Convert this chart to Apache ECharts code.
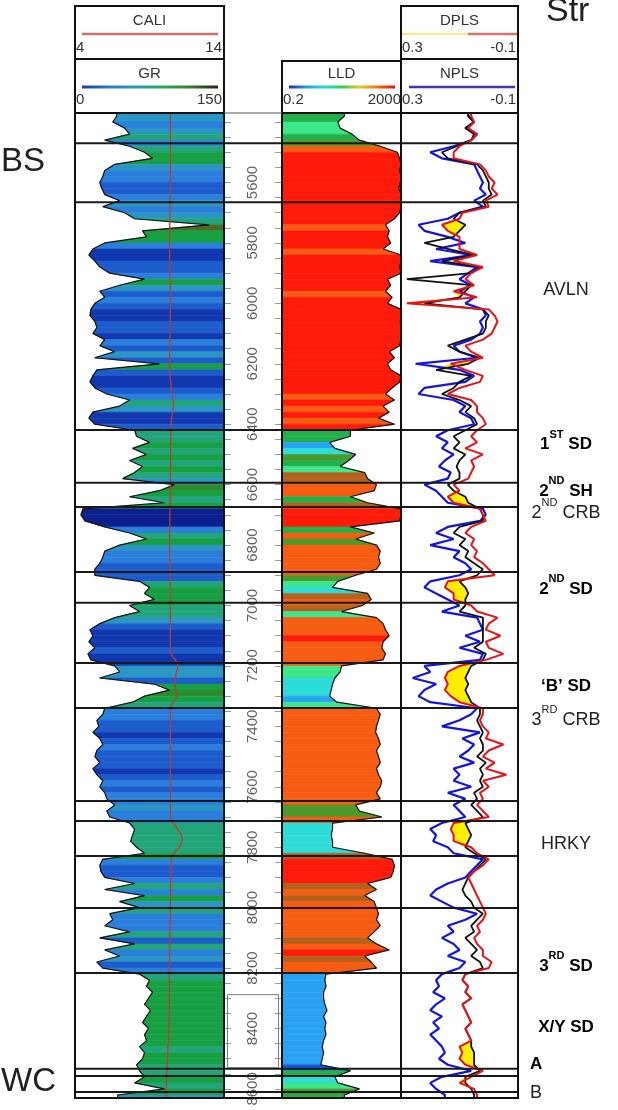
<!DOCTYPE html>
<html><head><meta charset="utf-8">
<script src="https://cdn.jsdelivr.net/npm/echarts@6/dist/echarts.min.js"></script>
<style>html,body{margin:0;padding:0;background:#fff}#c{width:618px;height:1110px}</style>
</head><body><div id="c"></div>
<script>
// ---------------- DATA ----------------
const DEPTH_TOP = 5370, DEPTH_BOTTOM = 8630;      // depth range of the log tracks (ft)
const SAMPLE_START = 5380, SAMPLE_STEP = 20;       // curve sampling grid (ft)

const grValues = [
  42,38,50,55,30,
  55,70,78,40,30,28,25,27,30,45,
  28,50,60,135,68,72,30,18,14,20,25,35,70,45,25,30,20,16,15,20,22,18,30,25,40,20,85,22,18,15,20,32,55,45,18,14,20,
  60,62,75,58,72,55,68,60,48,
  100,85,55,90,
  8,6,10,30,55,72,45,30,28,25,20,
  20,65,75,70,80,
  55,65,40,25,15,18,14,20,13,16,
  40,45,25,80,95,70,58,
  30,28,22,24,18,25,28,22,20,25,18,22,28,25,30,32,
  40,32,35,
  55,60,58,56,62,70,
  28,25,26,30,60,30,70,45,65,
  35,38,30,55,25,60,30,45,22,28,
  65,75,72,78,74,70,76,72,68,74,70,72,65,70,68,62,
  65,70,60,90,43
];
const lldValues = [
  25,15,18,45,80,
  400,1500,1800,2000,1800,2000,1900,1700,2000,2000,
  2000,1800,1200,600,800,700,900,500,2000,2000,1800,2000,700,900,600,1000,700,2000,2000,1900,2000,2000,2000,1800,800,1200,700,900,2000,1800,1000,600,1200,500,800,350,1200,
  40,40,8,12,60,35,18,120,150,
  300,250,40,150,
  2000,2000,1800,40,250,60,300,400,350,400,300,
  60,15,10,150,200,
  100,20,300,500,600,800,500,450,600,500,
  20,18,12,10,9,8,14,
  300,400,350,300,280,350,400,300,350,400,300,350,450,400,300,400,
  60,80,450,
  10,10,9,10,10,120,
  1000,1200,1100,900,150,300,120,250,300,
  350,300,400,250,150,300,800,120,200,300,
  6,5.5,6,5,5,5.5,6.5,5,6,5.5,6,5,4.5,5,4.5,4,
  40,12,15,80,25
];
const nplsValues = [
  0.07,0.05,0.08,0.04,0.06,
  0.12,0.20,0.16,0.05,0.04,0.03,0.02,0.03,0.01,0.05,
  0.02,0.10,0.14,0.24,0.22,0.14,0.08,0.18,0.06,0.20,0.04,0.07,0.10,0.06,0.10,0.05,0.08,0.02,0.01,0.03,0.02,0.03,0.06,0.12,0.10,0.04,0.25,0.10,0.05,0.08,0.22,0.24,0.12,0.08,0.10,0.06,0.05,
  0.14,0.18,0.14,0.16,0.12,0.15,0.17,0.13,0.14,
  0.22,0.18,0.16,0.14,
  0.02,0.01,0.03,0.14,0.18,0.12,0.20,0.10,0.12,0.08,0.06,
  0.10,0.20,0.22,0.18,0.14,
  0.10,0.16,0.04,0.03,0.02,0.08,0.03,0.10,0.02,0.03,
  0.22,0.20,0.26,0.18,0.22,0.24,0.20,
  0.04,0.06,0.10,0.16,0.03,0.09,0.05,0.07,0.10,0.05,0.12,0.10,0.12,0.06,0.14,0.08,
  0.12,0.10,0.08,
  0.16,0.20,0.18,0.19,0.14,0.12,
  0.02,0.04,0.06,0.08,0.14,0.18,0.20,0.16,0.12,
  0.04,0.08,0.14,0.12,0.16,0.12,0.10,0.14,0.08,0.10,
  0.16,0.18,0.17,0.19,0.15,0.18,0.20,0.16,0.19,0.17,0.20,0.18,0.16,0.15,0.17,0.14,
  0.06,0.16,0.20,0.18,0.15
];
const dplsValues = [
  0.06,0.05,0.07,0.04,0.06,
  0.10,0.12,0.12,0.03,0.01,0.0,-0.02,-0.01,-0.03,0.01,
  0.0,0.09,0.10,0.16,0.14,0.10,0.10,0.10,0.04,0.12,0.02,0.06,0.08,0.05,0.12,0.04,0.28,0.0,-0.02,-0.03,-0.02,-0.01,0.02,0.08,0.06,0.02,0.13,0.08,0.02,0.03,0.10,0.14,0.06,0.04,0.04,0.02,0.01,
  0.04,0.06,0.04,0.08,0.02,0.06,0.05,0.06,0.07,
  0.12,0.10,0.14,0.12,
  0.03,0.02,0.01,0.06,0.08,0.05,0.06,0.04,0.05,0.02,0.0,
  -0.02,0.14,0.15,0.12,0.12,
  0.06,0.04,-0.03,0.0,0.01,-0.04,0.01,0.0,-0.05,0.01,
  0.10,0.14,0.15,0.14,0.15,0.13,0.10,
  0.02,0.02,0.03,0.02,0.0,0.01,-0.05,0.0,0.02,-0.02,0.01,-0.06,0.02,0.0,0.03,0.02,
  0.04,0.02,0.0,
  0.12,0.13,0.12,0.12,0.06,0.04,
  0.0,0.02,0.05,0.07,0.06,0.05,0.04,0.03,0.02,
  0.01,0.02,0.04,0.03,0.05,0.04,0.02,0.02,-0.01,0.0,
  0.08,0.09,0.07,0.08,0.06,0.09,0.08,0.07,0.06,0.08,0.07,0.06,0.10,0.09,0.10,0.08,
  0.02,0.06,0.10,0.05,0.04
];
const blackValues = [
  0.07,0.05,0.08,0.05,0.06,
  0.11,0.16,0.14,0.04,0.02,0.01,0.0,0.0,-0.01,0.02,
  0.01,0.10,0.12,0.08,0.10,0.12,0.22,0.14,0.05,0.16,0.03,0.06,0.28,0.06,0.08,0.10,0.22,0.02,0.0,0.01,0.01,0.02,0.08,0.14,0.10,0.03,0.07,0.18,0.06,0.10,0.12,0.16,0.10,0.06,0.08,0.05,0.04,
  0.08,0.12,0.10,0.12,0.08,0.10,0.11,0.10,0.10,
  0.14,0.12,0.08,0.07,
  0.03,0.02,0.02,0.10,0.12,0.08,0.10,0.07,0.08,0.05,0.02,
  0.04,0.10,0.08,0.07,0.08,
  0.08,0.10,0.02,0.02,0.02,0.02,0.02,0.05,0.01,0.02,
  0.06,0.07,0.08,0.07,0.08,0.07,0.06,
  0.03,0.03,0.04,0.03,0.02,0.03,0.02,0.02,0.04,0.01,0.03,0.02,0.03,0.02,0.05,0.04,
  0.06,0.04,0.02,
  0.08,0.07,0.06,0.07,0.08,0.05,
  0.01,0.03,0.05,0.07,0.08,0.09,0.08,0.06,0.05,
  0.02,0.04,0.06,0.05,0.08,0.06,0.04,0.06,0.03,0.02,
  0.08,0.09,0.07,0.08,0.06,0.09,0.08,0.07,0.06,0.08,0.07,0.06,0.06,0.05,0.05,0.05,
  0.03,0.08,0.08,0.06,0.05
];
const caliDepths = [5370,5600,5800,6000,6200,6300,6330,6400,6600,6800,7000,7150,7200,7250,7300,7340,7500,7700,7740,7770,7800,7830,8000,8200,8400,8500,8630];
const caliValues = [10.4,10.4,10.35,10.4,10.35,10.5,10.6,10.45,10.4,10.35,10.4,10.4,10.9,10.7,10.8,10.4,10.4,10.4,10.9,11.2,11.0,10.5,10.4,10.35,10.3,10.2,10.1];

const depthLabels = [5600,5800,6000,6200,6400,6600,6800,7000,7200,7400,7600,7800,8000,8200,8400,8600];
const formationTops = [5470,5665,6419,6594,6674,6889,6991,7190,7339,7647,7713,7829,8001,8216,8533,8557,8610];
const formationLabels = ['BS','AVLN','1^ST^ SD','2^ND^ SH','2^ND^ CRB','2^ND^ SD','‘B’ SD','3^RD^ CRB','HRKY','3^RD^ SD','X/Y SD','A','B','WC'];
const formationLabelDepths = [5525,5949,6459,6614,6687,6938,7259,7372,7782,8186,8388,8510,8606,8570];
const bracketRange = [8288, 8530];

// ---------------- STYLE ----------------
const FONT = '"Liberation Sans", Arial, sans-serif';
const BOLD = new Set(['1^ST^ SD','2^ND^ SH','2^ND^ SD','‘B’ SD','3^RD^ SD','X/Y SD','A']);
const SIDE_LEFT = new Set(['BS','WC']);
const LEFT_ALIGN = new Set(['A','B']);
const CLEAR = 'rgba(0,0,0,0)';

function grColor(v){
  if (v < 12) return '#0b1f8f';
  if (v < 20) return '#1238b0';
  if (v < 28) return '#1d5ccc';
  if (v < 40) return '#2a7fdc';
  if (v < 52) return '#2a96c4';
  if (v < 66) return '#22a57a';
  if (v < 95) return '#17a043';
  if (v < 115) return '#2f8a2c';
  return '#4d6b26';
}
function lldColor(v){
  if (v < 4.5) return '#1a5ad8';
  if (v < 9) return '#2aa2f2';
  if (v < 13) return '#2edcd8';
  if (v < 25) return '#3ee68c';
  if (v < 50) return '#22b04a';
  if (v < 100) return '#4c9a2e';
  if (v < 200) return '#b2621c';
  if (v < 650) return '#f65c12';
  return '#ff1a0a';
}

// ---------------- BUILD ----------------
const depthAt = i => SAMPLE_START + i * SAMPLE_STEP;
const extDepths = [DEPTH_TOP].concat(grValues.map((_, i) => depthAt(i)), [DEPTH_BOTTOM]);
const ext = arr => [arr[0]].concat(arr, [arr[arr.length - 1]]);
const grExt = ext(grValues), lldExt = ext(lldValues), nExt = ext(nplsValues), dExt = ext(dplsValues), bExt = ext(blackValues);
const segIdx = extDepths.slice(0, -1).map((d, k) => [k]);

function fillSeries(vals, xi, yi, edge, colorFn){
  return {
    type: 'custom', xAxisIndex: xi, yAxisIndex: yi, clip: true, silent: true, z: 2,
    data: segIdx,
    renderItem(params, api){
      const k = params.dataIndex;
      const d0 = extDepths[k], d1 = extDepths[k + 1];
      const v0 = vals[k], v1 = vals[k + 1];
      const pts = [api.coord([v0, d0]), api.coord([v1, d1]), api.coord([edge, d1]), api.coord([edge, d0])];
      const c = colorFn(k === 0 ? v1 : v0);
      return { type: 'polygon', shape: { points: pts }, style: { fill: c, stroke: c, lineWidth: 0.6 } };
    }
  };
}
function curve(vals, xi, yi, color, width, z){
  return {
    type: 'line', xAxisIndex: xi, yAxisIndex: yi, symbol: 'none', silent: true, clip: true, z: z || 3,
    data: vals.map((v, k) => [v, extDepths[k]]),
    lineStyle: { color: color, width: width }
  };
}

function richText(name){
  return name.split('^').map((p, k) => p ? '{' + (k % 2 ? 's' : 'n') + '|' + p + '}' : '').join('');
}
const labelData = formationLabels.map((name, i) => {
  const side = SIDE_LEFT.has(name), bold = BOLD.has(name), la = LEFT_ALIGN.has(name);
  const fs = side ? 33 : (bold ? 17 : 18);
  const lh = side ? 40 : 24;
  const col = bold ? '#000' : '#222';
  return {
    value: [side ? 2 : (la ? 531 : 567), formationLabelDepths[i]],
    label: {
      show: true, position: [0, 0], align: (side || la) ? 'left' : 'center', verticalAlign: 'middle',
      color: col, opacity: 1, textBorderWidth: 0,
      formatter: richText(name),
      rich: {
        n: { fontSize: fs, fontWeight: bold ? 'bold' : 'normal', color: col, fontFamily: FONT, lineHeight: lh, verticalAlign: 'bottom' },
        s: { fontSize: 11, fontWeight: bold ? 'bold' : 'normal', color: col, fontFamily: FONT, lineHeight: 21, verticalAlign: 'top' }
      }
    }
  };
});

const depthTicks = [];
for (let d = 5400; d <= 8600; d += 50) depthTicks.push(d);

const G = { top: 113, height: 985 };
const grids = [
  { left: 75, width: 149, ...G },
  { left: 224, width: 58, ...G },
  { left: 282, width: 119, ...G },
  { left: 401, width: 117, ...G },
  { left: 0, width: 618, ...G }
].map(g => Object.assign({ containLabel: false, outerBoundsMode: 'none', show: false }, g));

const yBase = gi => ({ gridIndex: gi, type: 'value', min: DEPTH_TOP, max: DEPTH_BOTTOM, inverse: true, show: false });
const tickAxis = (pos) => ({
  gridIndex: 1, type: 'value', min: DEPTH_TOP, max: DEPTH_BOTTOM, inverse: true, position: pos, show: true,
  axisLine: { show: false }, axisLabel: { show: false }, splitLine: { show: false },
  axisTick: { show: true, inside: true, length: 7, lineStyle: { color: '#9a9a9a', width: 1 }, customValues: depthTicks }
});

function hText(text, x, y, align, size){
  return { type: 'text', z: 101, style: { text: text, x: x, y: y, fill: '#333', font: (size || 15) + 'px ' + FONT,
    align: align, textAlign: align, verticalAlign: 'middle', textVerticalAlign: 'middle' } };
}
function hLine(x1, y1, x2, y2, color, w){
  return { type: 'line', z: 100, shape: { x1, y1, x2, y2 }, style: { stroke: color || '#111', lineWidth: w || 2 } };
}
function gradBar(x, y, w, stops){
  return { type: 'rect', z: 101, shape: { x: x, y: y - 1.5, width: w, height: 3 },
    style: { fill: { type: 'linear', x: 0, y: 0, x2: 1, y2: 0, colorStops: stops.map((c, i) => ({ offset: i / (stops.length - 1), color: c })) } } };
}
const boxStyle = { fill: 'none', stroke: '#111', lineWidth: 2 };
const graphics = [
  { type: 'rect', z: 100, shape: { x: 75, y: 6, width: 149, height: 1092 }, style: boxStyle },
  { type: 'rect', z: 100, shape: { x: 282, y: 61, width: 119, height: 1037 }, style: boxStyle },
  { type: 'rect', z: 100, shape: { x: 401, y: 6, width: 117, height: 1092 }, style: boxStyle },
  hLine(75, 59, 224, 59), hLine(75, 113, 224, 113), hLine(282, 113, 518, 113), hLine(401, 59, 518, 59),
  hLine(224, 113, 282, 113, '#555', 1.2), hLine(224, 1098, 282, 1098, '#111', 2),
  hText('CALI', 149.5, 21, 'center'),
  hLine(82, 34, 218, 34, '#d46c6c', 2.5),
  hText('4', 76, 48, 'left'), hText('14', 222, 48, 'right'),
  hText('GR', 149.5, 74, 'center'),
  gradBar(82, 87, 136, ['#1a3aa8', '#2a7ed0', '#22a0b0', '#20b050', '#3c7a2c', '#222']),
  hText('0', 76, 100, 'left'), hText('150', 222, 100, 'right'),
  hText('LLD', 341.5, 74, 'center'),
  gradBar(289, 87, 106, ['#2030c0', '#20a0f0', '#20e0d0', '#30d050', '#e0d020', '#f07010', '#e81010']),
  hText('0.2', 283, 100, 'left'), hText('2000', 401, 100, 'right'),
  hText('DPLS', 459.5, 21, 'center'),
  hLine(402, 34, 468, 34, '#f2eca0', 2.5), hLine(468, 34, 517, 34, '#e07070', 2.5),
  hText('0.3', 402, 48, 'left'), hText('-0.1', 516, 48, 'right'),
  hText('NPLS', 459.5, 74, 'center'),
  hLine(409, 87, 515, 87, '#3a3aa8', 2.5),
  hText('0.3', 402, 100, 'left'), hText('-0.1', 516, 100, 'right'),
  { type: 'text', z: 101, style: { text: 'Str', x: 546, y: -5, fill: '#222', font: '34px ' + FONT, align: 'left', textAlign: 'left', verticalAlign: 'top', textVerticalAlign: 'top' } }
];

const option = {
  animation: false,
  backgroundColor: '#ffffff',
  grid: grids,
  xAxis: [
    { gridIndex: 0, type: 'value', min: 0, max: 150, show: false },
    { gridIndex: 0, type: 'value', min: 4, max: 14, show: false },
    { gridIndex: 1, type: 'value', min: 0, max: 1, show: false },
    { gridIndex: 2, type: 'log', logBase: 10, min: 0.2, max: 2000, show: false },
    { gridIndex: 3, type: 'value', min: -0.1, max: 0.3, inverse: true, show: false },
    { gridIndex: 4, type: 'value', min: 0, max: 618, show: false }
  ],
  yAxis: [ yBase(0), tickAxis('left'), tickAxis('right'), yBase(2), yBase(3), yBase(4) ],
  graphic: graphics,
  series: [
    fillSeries(grExt, 0, 0, 150, grColor),
    curve(grExt, 0, 0, '#151515', 1.2),
    {
      type: 'line', xAxisIndex: 1, yAxisIndex: 0, symbol: 'none', silent: true, smooth: 0.4, z: 4,
      data: caliValues.map((v, i) => [v, caliDepths[i]]),
      lineStyle: { color: '#c03a2a', width: 1.3 }
    },
    {
      type: 'scatter', xAxisIndex: 2, yAxisIndex: 1, symbolSize: 2, silent: true, z: 5,
      itemStyle: { color: CLEAR },
      data: depthLabels.map(d => [0.5, d]),
      label: { show: true, position: 'inside', rotate: 90, formatter: p => String(p.value[1]),
        fontSize: 15, color: '#3a3a3a', fontFamily: FONT },
      markArea: { silent: true, itemStyle: { color: CLEAR, borderColor: '#777', borderWidth: 1 },
        data: [[{ xAxis: 0.06, yAxis: bracketRange[0] }, { xAxis: 0.94, yAxis: bracketRange[1] }]] }
    },
    fillSeries(lldExt, 3, 3, 0.2, lldColor),
    curve(lldExt, 3, 3, '#151515', 1.2),
    {
      type: 'custom', xAxisIndex: 4, yAxisIndex: 4, clip: true, silent: true, z: 2,
      data: segIdx,
      renderItem(params, api){
        const k = params.dataIndex;
        const d0 = extDepths[k], d1 = extDepths[k + 1];
        const a0 = dExt[k], a1 = dExt[k + 1], b0 = bExt[k], b1 = bExt[k + 1];
        if (a0 <= b0 && a1 <= b1) return null;
        const pts = [api.coord([Math.max(a0, b0), d0]), api.coord([Math.max(a1, b1), d1]), api.coord([b1, d1]), api.coord([b0, d0])];
        return { type: 'polygon', shape: { points: pts }, style: { fill: '#ffee00', stroke: '#ffee00', lineWidth: 0.5 } };
      }
    },
    curve(nExt, 4, 4, '#1414e0', 2.2, 3),
    curve(bExt, 4, 4, '#111111', 1.8, 4),
    curve(dExt, 4, 4, '#e5141a', 2, 5),
    {
      type: 'custom', xAxisIndex: 5, yAxisIndex: 5, silent: true, z: 10, clip: false,
      data: formationTops.map(d => [0, d]),
      renderItem(params, api){
        const p1 = api.coord([75, api.value(1)]), p2 = api.coord([518, api.value(1)]);
        return { type: 'line', shape: { x1: p1[0], y1: p1[1], x2: p2[0], y2: p2[1] }, style: { stroke: '#1a1a1a', lineWidth: 2 } };
      }
    },
    {
      type: 'scatter', xAxisIndex: 5, yAxisIndex: 5, symbolSize: 2, silent: true, z: 11,
      itemStyle: { color: CLEAR },
      data: labelData
    }
  ]
};
const chart = echarts.init(document.getElementById('c'), null, { renderer: 'canvas', width: 618, height: 1110 });
chart.setOption(option);
</script>
</body></html>
